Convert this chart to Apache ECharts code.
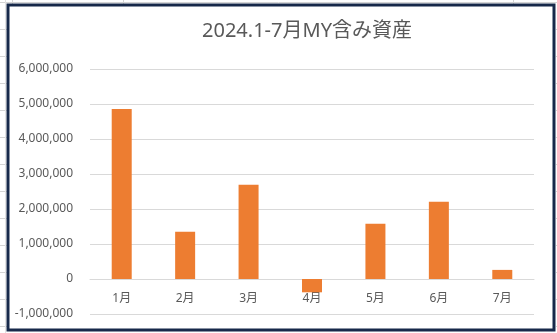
<!DOCTYPE html>
<html>
<head>
<meta charset="utf-8">
<script src="https://cdn.jsdelivr.net/npm/echarts@6/dist/echarts.min.js"></script>
<style>
  html, body { margin: 0; padding: 0; background: #fff; }
  #main { width: 557px; height: 333px; }
</style>
</head>
<body>
<div id="main"></div>
<script>
// data
const months = ['1月', '2月', '3月', '4月', '5月', '6月', '7月'];
const assets = [4860000, 1350000, 2690000, -380000, 1580000, 2210000, 260000];
const titleText = '2024.1-7月MY含み資産';

// faint spreadsheet cell lines around the chart frame
const cellRows = [2, 29, 56, 83, 110, 137, 164, 191, 218, 245, 272, 299, 326];
const cellCols = [12, 123, 513];

const cellLines = [];
cellRows.forEach(y => {
    cellLines.push({type: 'line', shape: {x1: 0, y1: y + 0.5, x2: 7, y2: y + 0.5}, style: {stroke: '#d4d4d4', lineWidth: 1}, silent: true});
    cellLines.push({type: 'line', shape: {x1: 556, y1: y + 0.5, x2: 557, y2: y + 0.5}, style: {stroke: '#d4d4d4', lineWidth: 1}, silent: true});
});
cellLines.push({type: 'line', shape: {x1: 0, y1: 2.5, x2: 557, y2: 2.5}, style: {stroke: '#d4d4d4', lineWidth: 1}, silent: true});
cellCols.forEach(x => {
    cellLines.push({type: 'line', shape: {x1: x + 0.5, y1: 0, x2: x + 0.5, y2: 4}, style: {stroke: '#d4d4d4', lineWidth: 1}, silent: true});
});
cellLines.push({type: 'line', shape: {x1: 5.5, y1: 0, x2: 5.5, y2: 333}, style: {stroke: '#e2e2e2', lineWidth: 1}, silent: true});

const chart = echarts.init(document.getElementById('main'), null, {renderer: 'canvas'});
chart.setOption({
    animation: false,
    backgroundColor: '#fff',
    textStyle: {fontFamily: '"Noto Sans", "Noto Sans CJK JP", sans-serif'},
    title: {
        text: titleText,
        left: 302,
        top: 16,
        textAlign: 'center',
        textStyle: {
            fontFamily: '"Noto Sans", "Noto Sans CJK JP", sans-serif',
            fontSize: 20,
            fontWeight: 'normal',
            color: '#595959'
        }
    },
    grid: {left: 90, right: 23, top: 69, bottom: 19, containLabel: false, outerBoundsMode: 'none'},
    xAxis: {
        type: 'category',
        data: months,
        // x axis sits on the zero line (one tick band above the bottom)
        offset: -35,
        axisLine: {onZero: false, lineStyle: {color: '#d9d9d9', width: 1}},
        axisTick: {show: false},
        axisLabel: {color: '#595959', fontSize: 12, margin: 14}
    },
    yAxis: {
        type: 'value',
        min: -1000000,
        max: 6000000,
        interval: 1000000,
        axisLine: {show: false},
        axisTick: {show: false},
        splitLine: {lineStyle: {color: '#d9d9d9', width: 1}},
        axisLabel: {
            color: '#595959',
            fontSize: 12,
            margin: 17,
            formatter: v => v.toLocaleString('en-US')
        }
    },
    series: [{
        type: 'bar',
        data: assets,
        barWidth: 20,
        itemStyle: {color: '#ed7d31'}
    }],
    graphic: cellLines.concat([{
        type: 'rect',
        shape: {x: 8, y: 5, width: 546, height: 325},
        style: {fill: 'none', stroke: '#17294a', lineWidth: 3},
        silent: true,
        z: 100
    }])
});
</script>
</body>
</html>
